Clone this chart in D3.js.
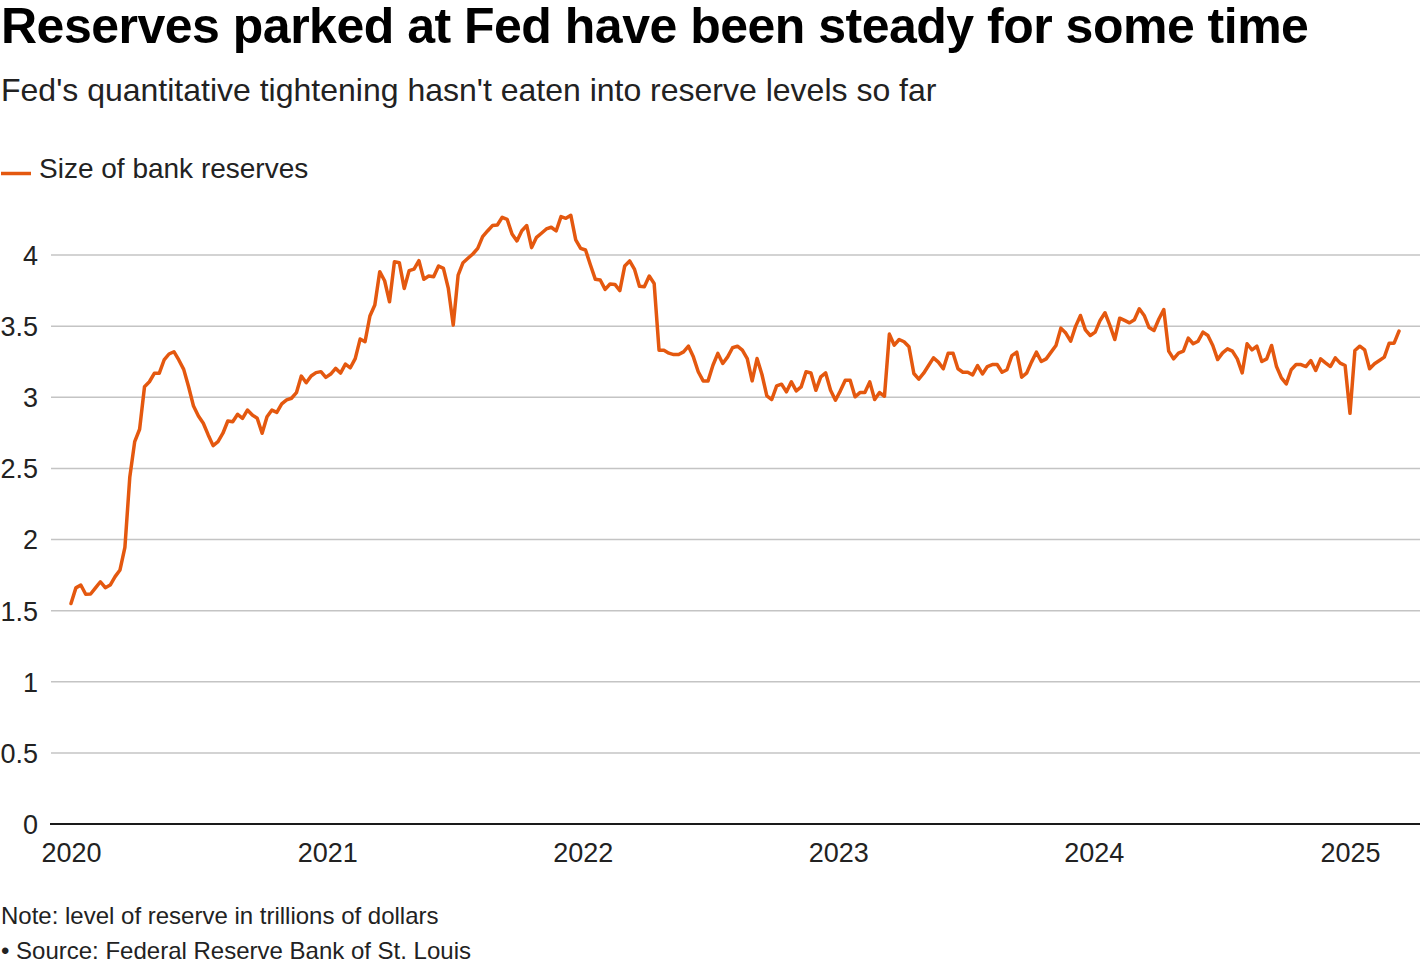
<!DOCTYPE html>
<html>
<head>
<meta charset="utf-8">
<script src="https://cdn.jsdelivr.net/npm/d3@7"></script>
<style>
  body { margin: 0; background: #fff; }
  svg { display: block; font-family: "Liberation Sans", Arial, Helvetica, sans-serif; }
</style>
</head>
<body>
<div id="chart"></div>
<script>
// weekly readings (Wednesdays), trillions of dollars
const startDate = new Date(2020, 0, 1);
const values2020 = [1.55, 1.66, 1.68, 1.615, 1.617, 1.66, 1.703, 1.661, 1.68, 1.739, 1.786, 1.945, 2.44, 2.688, 2.775,
  3.074, 3.109, 3.168, 3.168, 3.262, 3.304, 3.32, 3.262, 3.196, 3.074, 2.938, 2.868, 2.817, 2.735, 2.66, 2.688, 2.747,
  2.833, 2.828, 2.88, 2.852, 2.91, 2.875, 2.852, 2.747, 2.863, 2.91, 2.894, 2.953, 2.981, 2.993, 3.032, 3.149, 3.102,
  3.149, 3.173, 3.18, 3.14];
const values2021 = [3.163, 3.203, 3.17, 3.233, 3.207, 3.272, 3.409, 3.39, 3.571, 3.648, 3.883, 3.819, 3.671, 3.953,
  3.946, 3.765, 3.89, 3.901, 3.96, 3.829, 3.852, 3.847, 3.923, 3.906, 3.765, 3.507, 3.859, 3.946, 3.977, 4.007, 4.047,
  4.129, 4.169, 4.207, 4.211, 4.265, 4.251, 4.148, 4.099, 4.171, 4.207, 4.052, 4.124, 4.153, 4.183, 4.195, 4.169, 4.27,
  4.258, 4.279, 4.106, 4.047];
const values2022 = [4.035, 3.93, 3.829, 3.824, 3.758, 3.796, 3.793, 3.749, 3.923, 3.958, 3.899, 3.78, 3.777, 3.852,
  3.8, 3.331, 3.33, 3.31, 3.30, 3.30, 3.319, 3.359, 3.284, 3.179, 3.115, 3.115, 3.225, 3.308, 3.237, 3.284, 3.348,
  3.359, 3.331, 3.272, 3.115, 3.272, 3.16, 3.01, 2.984, 3.08, 3.092, 3.038, 3.108, 3.045, 3.073, 3.179, 3.171, 3.049,
  3.143, 3.171, 3.049, 2.979];
const values2023 = [3.045, 3.12, 3.12, 3.003, 3.033, 3.033, 3.108, 2.984, 3.033, 3.007, 3.444, 3.366, 3.406, 3.39,
  3.355, 3.167, 3.127, 3.169, 3.223, 3.277, 3.247, 3.2, 3.31, 3.31, 3.2, 3.176, 3.176, 3.157, 3.223, 3.164, 3.216, 3.23,
  3.23, 3.176, 3.193, 3.293, 3.317, 3.141, 3.169, 3.247, 3.317, 3.251, 3.27, 3.317, 3.364, 3.486, 3.451, 3.394, 3.498,
  3.575, 3.474, 3.434];
const values2024 = [3.458, 3.54, 3.594, 3.505, 3.406, 3.556, 3.54, 3.523, 3.545, 3.622, 3.575, 3.49, 3.469, 3.55,
  3.617, 3.324, 3.27, 3.31, 3.324, 3.416, 3.376, 3.394, 3.458, 3.434, 3.364, 3.265, 3.312, 3.34, 3.324, 3.27, 3.171,
  3.376, 3.333, 3.359, 3.251, 3.27, 3.364, 3.216, 3.136, 3.094, 3.193, 3.23, 3.23, 3.216, 3.258, 3.188, 3.27, 3.242,
  3.216, 3.277, 3.24, 3.223];
const values2025 = [2.887, 3.329, 3.359, 3.333, 3.2, 3.235, 3.258, 3.282, 3.38, 3.38, 3.465];

const yTicks = [0, 0.5, 1, 1.5, 2, 2.5, 3, 3.5, 4];
const xTickYears = [2020, 2021, 2022, 2023, 2024, 2025];

const title = "Reserves parked at Fed have been steady for some time";
const subtitle = "Fed's quantitative tightening hasn't eaten into reserve levels so far";
const seriesName = "Size of bank reserves";
const note = "Note: level of reserve in trillions of dollars";
const source = "\u2022 Source: Federal Reserve Bank of St. Louis";

const allValues = [].concat(values2020, values2021, values2022, values2023, values2024, values2025);
const data = allValues.map((v, i) => ({ date: d3.timeWeek.offset(startDate, i), value: v }));

const width = 1420, height = 970;
const lineColor = "#e4580f";
const textColor = "#222";

const svg = d3.select("#chart").append("svg")
  .attr("width", width)
  .attr("height", height);

const x = d3.scaleTime()
  .domain([new Date(2020, 0, 1), new Date(2025, 0, 1)])
  .range([71, 1350]);
const y = d3.scaleLinear().domain([0, 4]).range([824, 255]);

// titles
svg.append("text").attr("x", 1).attr("y", 43)
  .attr("font-size", 50).attr("font-weight", "bold").attr("fill", "#000")
  .attr("letter-spacing", -0.5)
  .text(title);
svg.append("text").attr("x", 1).attr("y", 100.5)
  .attr("font-size", 32).attr("fill", textColor)
  .text(subtitle);

// legend
svg.append("line").attr("x1", 1).attr("x2", 31).attr("y1", 173.5).attr("y2", 173.5)
  .attr("stroke", lineColor).attr("stroke-width", 3.5);
svg.append("text").attr("x", 39).attr("y", 177.5)
  .attr("font-size", 28).attr("fill", textColor)
  .text(seriesName);

// grid
const yAxis = d3.axisLeft(y).tickValues(yTicks).tickSize(0).tickPadding(0)
  .tickFormat(d => d3.format("")(d));
const gy = svg.append("g").attr("transform", "translate(38,0)").call(yAxis);
gy.select(".domain").remove();
gy.selectAll("text").attr("font-size", 27).attr("fill", textColor)
  .attr("font-family", "Liberation Sans, Arial, sans-serif")
  .attr("dy", "0.35em");

svg.append("g").selectAll("line")
  .data(yTicks.filter(d => d > 0))
  .join("line")
  .attr("x1", 51).attr("x2", width)
  .attr("y1", d => y(d)).attr("y2", d => y(d))
  .attr("stroke", "#c4c4c4").attr("stroke-width", 1.5);

svg.append("line").attr("x1", 50).attr("x2", width)
  .attr("y1", y(0)).attr("y2", y(0))
  .attr("stroke", "#1a1a1a").attr("stroke-width", 2);

// x axis
const xAxis = d3.axisBottom(x)
  .tickValues(xTickYears.map(yr => new Date(yr, 0, 1)))
  .tickSize(0).tickPadding(0)
  .tickFormat(d3.timeFormat("%Y"));
const gx = svg.append("g").attr("transform", `translate(0,${y(0)})`).call(xAxis);
gx.select(".domain").remove();
gx.selectAll("text").attr("font-size", 27).attr("fill", textColor)
  .attr("font-family", "Liberation Sans, Arial, sans-serif")
  .attr("dy", 0).attr("y", 38);

// line
const line = d3.line().x(d => x(d.date)).y(d => y(d.value));
svg.append("path").datum(data)
  .attr("fill", "none")
  .attr("stroke", lineColor)
  .attr("stroke-width", 3.5)
  .attr("stroke-linejoin", "round")
  .attr("stroke-linecap", "round")
  .attr("d", line);

// notes
svg.append("text").attr("x", 1).attr("y", 924)
  .attr("font-size", 24).attr("fill", textColor).text(note);
svg.append("text").attr("x", 1).attr("y", 959)
  .attr("font-size", 24).attr("fill", textColor).text(source);
</script>
</body>
</html>
